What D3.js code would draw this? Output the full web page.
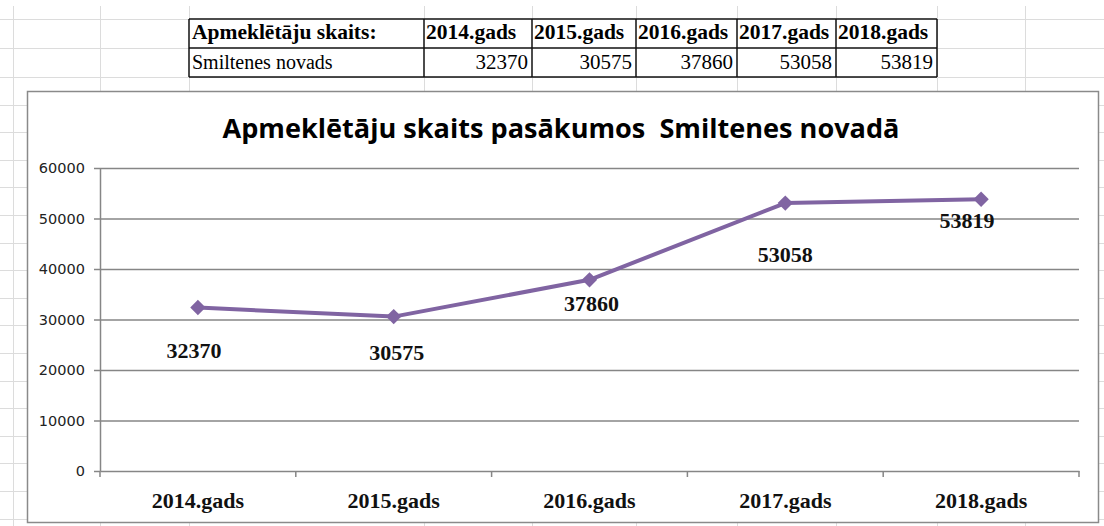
<!DOCTYPE html>
<html>
<head>
<meta charset="utf-8">
<script src="https://cdn.jsdelivr.net/npm/d3@7"></script>
<style>
  body { margin: 0; background: #fff; }
</style>
</head>
<body>
<div id="chart"></div>
<script>
// data ///////////////////////////////////////
var years = ['2014.gads', '2015.gads', '2016.gads', '2017.gads', '2018.gads'];
var visitors = [32370, 30575, 37860, 53058, 53819];
var rowName = 'Smiltenes novads';
var tableHead = 'Apmeklētāju skaits:';
var yTicks = [0, 10000, 20000, 30000, 40000, 50000, 60000];
var chartTitle = 'Apmeklētāju skaits pasākumos  Smiltenes novadā';
// data labels were dragged by hand in the workbook: [dx, dy] from the point
var labelNudge = [[-4, 50], [3, 43], [2, 31], [0, 59], [-14, 29]];

(function draw() {
    "use strict";
    var W = 1104, H = 526;
    var svg = d3.select('#chart').append('svg')
        .attr('width', W).attr('height', H);

    //spreadsheet grid behind everything//////////
    var colX = [13, 100, 189, 424, 532, 636, 737, 836, 937, 1025];
    var rowY = [19, 48].concat(d3.range(77, H, 27.6));
    var sheet = svg.append('g').attr('stroke', '#dcdcdc').attr('stroke-width', 1);
    colX.forEach(function(cx) {
        sheet.append('line').attr('x1', cx + 0.5).attr('x2', cx + 0.5)
            .attr('y1', 6).attr('y2', H);
    });
    rowY.forEach(function(ry) {
        sheet.append('line').attr('x1', 0).attr('x2', W)
            .attr('y1', Math.round(ry) + 0.5).attr('y2', Math.round(ry) + 0.5);
    });

    //the little table on top/////////////////////
    var cells = [189, 424, 532, 636, 737, 836, 937];
    var tTop = 19, tMid = 48, tBot = 77;
    var tbl = svg.append('g');
    tbl.append('rect').attr('x', cells[0]).attr('y', tTop)
        .attr('width', cells[cells.length - 1] - cells[0]).attr('height', tBot - tTop)
        .attr('fill', '#fff');
    tbl.append('text').attr('x', cells[0] + 3).attr('y', 39)
        .style('font-family', '"Liberation Serif", serif').style('font-size', '21.5px')
        .style('font-weight', 'bold').text(tableHead);
    tbl.append('text').attr('x', cells[0] + 3).attr('y', 69)
        .style('font-family', '"Liberation Serif", serif').style('font-size', '20px')
        .text(rowName);
    years.forEach(function(yr, i) {
        tbl.append('text').attr('x', cells[i + 1] + 2).attr('y', 39)
            .style('font-family', '"Liberation Serif", serif').style('font-size', '21.5px')
            .style('font-weight', 'bold').text(yr);
        tbl.append('text').attr('x', cells[i + 2] - 4).attr('y', 69)
            .style('font-family', '"Liberation Serif", serif').style('font-size', '21px')
            .style('text-anchor', 'end').text(visitors[i]);
    });
    var tb = tbl.append('g').attr('stroke', '#111').attr('stroke-width', 1.5);
    [tTop, tMid, tBot].forEach(function(ty) {
        tb.append('line').attr('x1', cells[0]).attr('x2', cells[cells.length - 1])
            .attr('y1', ty).attr('y2', ty);
    });
    cells.forEach(function(cx) {
        tb.append('line').attr('x1', cx).attr('x2', cx).attr('y1', tTop).attr('y2', tBot);
    });

    //chart frame/////////////////////////////////
    svg.append('rect').attr('x', 27.5).attr('y', 91.5).attr('width', 1071).attr('height', 431)
        .attr('fill', '#fff').attr('stroke', '#8a8a8a').attr('stroke-width', 1.5);

    svg.append('text').attr('x', 561).attr('y', 138)
        .style('font-family', '"Open Sans", sans-serif').style('font-size', '27px')
        .style('font-weight', 'bold').style('white-space', 'pre')
        .style('text-anchor', 'middle')
        .attr('textLength', 677).attr('lengthAdjust', 'spacingAndGlyphs')
        .text(chartTitle);

    //scales//////////////////////////////////////
    var x = d3.scaleBand().domain(years).range([100, 1079]);
    var y = d3.scaleLinear().domain([0, 60000]).range([471, 168]);
    var cx = function(d) { return x(d) + x.bandwidth() / 2; };

    //gridlines
    svg.append('g').attr('transform', 'translate(100,0)')
        .call(d3.axisLeft(y).tickValues(yTicks.slice(1)).tickSize(-979).tickFormat(''))
        .call(function(g) { g.select('.domain').remove(); })
        .selectAll('line').attr('stroke', '#868686').attr('stroke-width', 1.5);

    //y axis
    var yAx = svg.append('g').attr('transform', 'translate(100,0)')
        .call(d3.axisLeft(y).tickValues(yTicks).tickFormat(d3.format('d'))
            .tickSize(6).tickPadding(9).tickSizeOuter(0));
    yAx.select('.domain').attr('stroke', '#868686').attr('stroke-width', 1.5);
    yAx.selectAll('line').attr('stroke', '#868686').attr('stroke-width', 1.5);
    yAx.selectAll('text').style('font-family', '"DejaVu Sans", sans-serif')
        .style('font-size', '14.5px').attr('fill', '#222');

    //x axis: labels in the band centers, ticks on band edges
    var xAx = svg.append('g').attr('transform', 'translate(0,471)')
        .call(d3.axisBottom(x).tickSize(0).tickPadding(21).tickSizeOuter(0));
    xAx.select('.domain').attr('stroke', '#868686').attr('stroke-width', 1.5);
    xAx.selectAll('text').style('font-family', '"Liberation Serif", serif')
        .style('font-size', '22px').style('font-weight', 'bold').attr('fill', '#111');
    var edges = years.map(function(d) { return x(d); }).concat([x.range()[1]]);
    xAx.selectAll('.edge').data(edges).enter().append('line')
        .attr('x1', function(d) { return d; }).attr('x2', function(d) { return d; })
        .attr('y1', 0).attr('y2', 6).attr('stroke', '#868686').attr('stroke-width', 1.5);

    //series line + diamonds//////////////////////
    var line = d3.line()
        .x(function(d, i) { return cx(years[i]); })
        .y(function(d) { return y(d); });
    svg.append('path').datum(visitors).attr('d', line)
        .attr('fill', 'none').attr('stroke', '#8064a2').attr('stroke-width', 4)
        .attr('stroke-linejoin', 'round');
    var diamond = d3.symbol().type(d3.symbolDiamond2).size(150);
    svg.selectAll('.pt').data(visitors).enter().append('path')
        .attr('d', diamond)
        .attr('transform', function(d, i) {
            return 'translate(' + cx(years[i]) + ',' + y(d) + ')';
        })
        .attr('fill', '#8064a2');

    //data labels
    svg.selectAll('.lbl').data(visitors).enter().append('text')
        .attr('x', function(d, i) { return cx(years[i]) + labelNudge[i][0]; })
        .attr('y', function(d, i) { return y(d) + labelNudge[i][1]; })
        .style('text-anchor', 'middle')
        .style('font-family', '"Liberation Serif", serif')
        .style('font-size', '22px').style('font-weight', 'bold').attr('fill', '#111')
        .text(function(d) { return d; });
})();
</script>
</body>
</html>
